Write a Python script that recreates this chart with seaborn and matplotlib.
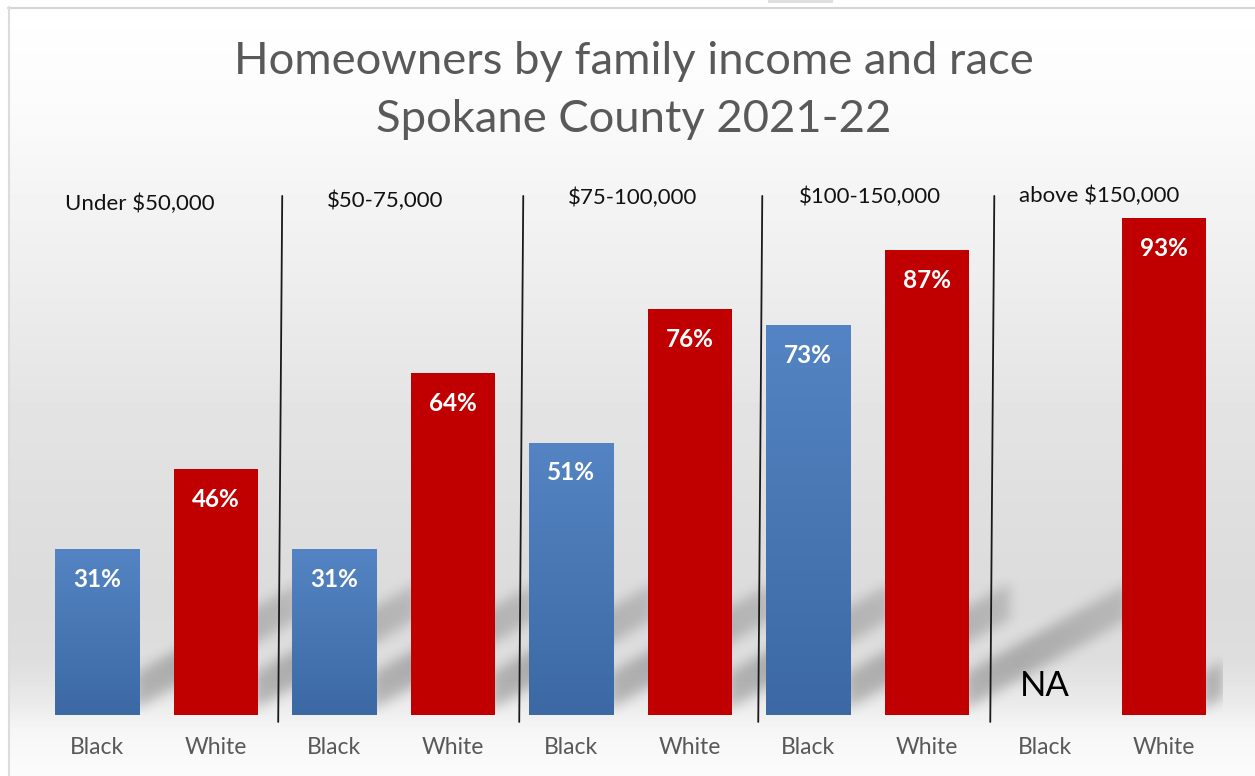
import numpy as np
import pandas as pd
import matplotlib
matplotlib.use("Agg")
import matplotlib.pyplot as plt
from matplotlib.colors import LinearSegmentedColormap
import seaborn as sns

# ---- data ----
groups = ["Under $50,000", "$50-75,000", "$75-100,000", "$100-150,000", "above $150,000"]
races = ["Black", "White"]
black_pct = [31, 31, 51, 73, np.nan]
white_pct = [46, 64, 76, 87, 93]
missing_label = "NA"
title_lines = ["Homeowners by family income and race", "Spokane County 2021-22"]

# ---- layout (pixels on a 1255x776 canvas) ----
W_PX, H_PX = 1255, 776
AX_LEFT, AX_RIGHT = 38, 1223
AX_TOP, AX_BOTTOM = 181, 715
group_label_x = [-0.27, 1.94, 3.97, 5.92, 7.78]
group_label_y = [95.7, 96.3, 96.8, 97.0, 97.2]
sep_x_top = [1.561, 3.595, 5.612, 7.570]
sep_x_bot = [1.527, 3.561, 5.578, 7.536]
sep_y = (-1.3, 97.2)

# long table: one row per drawn bar, plus the full category order
keys, rows = [], []
for g, b, w in zip(groups, black_pct, white_pct):
    for r, v in zip(races, (b, w)):
        key = f"{g} | {r}"
        keys.append(key)
        if not np.isnan(v):
            rows.append({"key": key, "race": r, "pct": v})
df = pd.DataFrame(rows)

sns.set_theme(style="white")
plt.rcParams["font.family"] = ["Lato", "DejaVu Sans"]

fig = plt.figure(figsize=(W_PX / 100, H_PX / 100), dpi=100)

# ---- slide background: soft vertical gray gradient ----
bg = fig.add_axes([0, 0, 1, 1], zorder=0)
stops_y = [0, 100, 200, 300, 400, 500, 600, 660, 700, 730, 776]
stops_v = [1.0, 0.985, 0.955, 0.925, 0.895, 0.875, 0.86, 0.87, 0.915, 0.965, 0.985]
col = np.interp(np.arange(H_PX), stops_y, stops_v)
img = np.repeat(col[:, None], W_PX, axis=1)
img[:7, :] = 1.0
img[:, :8] = 1.0
bg.imshow(img, cmap="gray", vmin=0, vmax=1, extent=[0, W_PX, H_PX, 0],
          aspect="auto", interpolation="bilinear")
bg.plot([8, W_PX], [7.5, 7.5], color="#d6d6d6", lw=1.5)
bg.plot([8.5, 8.5], [7, H_PX], color="#dcdcdc", lw=1.5)
bg.add_patch(plt.Rectangle((768, 0), 65, 3, color="#dedede", lw=0))
bg.set_xlim(0, W_PX)
bg.set_ylim(H_PX, 0)
bg.axis("off")

# ---- title ----
for i, line in enumerate(title_lines):
    fig.text(634 / W_PX, 1 - (62 + 58 * i) / H_PX, line, ha="center", va="center",
             fontsize=32.7, color="#595959")

# ---- bars ----
ax = fig.add_axes([AX_LEFT / W_PX, 1 - AX_BOTTOM / H_PX,
                   (AX_RIGHT - AX_LEFT) / W_PX, (AX_BOTTOM - AX_TOP) / H_PX], zorder=1)
ax.patch.set_alpha(0)
sns.barplot(data=df, x="key", y="pct", hue="race", order=keys, hue_order=races,
            palette={"Black": "#4f81bd", "White": "#c00000"}, dodge=False,
            width=0.71, saturation=1, legend=False, linewidth=0, ax=ax, zorder=3)

n = len(keys)
xlim = (-0.5, n - 0.5)
step = (AX_RIGHT - AX_LEFT) / n
ppu = (AX_BOTTOM - AX_TOP) / 100.0

# soft diagonal floor shadows to the right of each bar
Wa = AX_RIGHT - AX_LEFT
Hs = 200
U, Hh = np.meshgrid(np.arange(Wa) + 0.5, np.arange(Hs) + 0.5)
shade = np.zeros_like(U)
slope, lift, thick, length = 0.55, 8.0, 36.0, 160.0
for cont in ax.containers:
    for bar in cont:
        xr = (bar.get_x() + bar.get_width() - xlim[0]) * step
        d = U - xr
        lower = slope * d + lift
        m = (d >= -4) & (d <= length) & (Hh >= lower) & (Hh <= lower + thick)
        fade = np.clip(1.15 - 0.45 * d / length, 0, 1)
        shade = np.maximum(shade, m * fade)
k = np.arange(-18, 19)
kern = np.exp(-k ** 2 / (2 * 6.0 ** 2))
kern /= kern.sum()
shade = np.apply_along_axis(lambda r: np.convolve(r, kern, mode="same"), 1, shade)
shade = np.apply_along_axis(lambda c: np.convolve(c, kern, mode="same"), 0, shade)
rgba = np.zeros((Hs, Wa, 4))
rgba[..., 3] = 0.23 * shade
ax.imshow(rgba, origin="lower", extent=[xlim[0], xlim[1], 0, Hs / ppu],
          aspect="auto", zorder=1, interpolation="bilinear")

# vertical gradient on the blue bars
blue_grad = LinearSegmentedColormap.from_list("bg", ["#3c69a4", "#5484c3"])
for bar in ax.containers[0]:
    x0 = bar.get_x()
    im = ax.imshow(np.linspace(0, 1, 256)[:, None], origin="lower", cmap=blue_grad,
                   extent=[x0, x0 + bar.get_width(), 0, bar.get_height()],
                   aspect="auto", zorder=3.5)
    im.set_clip_path(bar)

# value labels inside the bar tops
for cont in ax.containers:
    for bar, v in zip(cont, cont.datavalues):
        ax.annotate(f"{v:.0f}%", (bar.get_x() + bar.get_width() / 2, v),
                    xytext=(0, -30), textcoords="offset pixels", ha="center",
                    va="center", color="white", fontweight="bold", fontsize=17.5, zorder=5)

# missing value marker
ax.text(keys.index(f"{groups[-1]} | Black"), 5.4, missing_label, ha="center",
        va="center", fontsize=25, color="black", zorder=5)

# group separators and group labels
for xt, xb in zip(sep_x_top, sep_x_bot):
    ax.plot([xb, xt], list(sep_y), color="#1a1a1a", lw=1.3, clip_on=False, zorder=4)
for g, gx, gy in zip(groups, group_label_x, group_label_y):
    ax.text(gx, gy, g, ha="left", va="center", fontsize=16, color="#111111", zorder=5)

ax.set_xlim(*xlim)
ax.set_ylim(0, 100)
ax.set_xticks(range(n))
ax.set_xticklabels(races * len(groups))
ax.tick_params(axis="x", length=0, pad=16, labelsize=16.5, labelcolor="#595959")
ax.set_yticks([])
ax.set_xlabel("")
ax.set_ylabel("")
sns.despine(ax=ax, left=True, bottom=True)

fig.savefig("out.png", dpi=100)
